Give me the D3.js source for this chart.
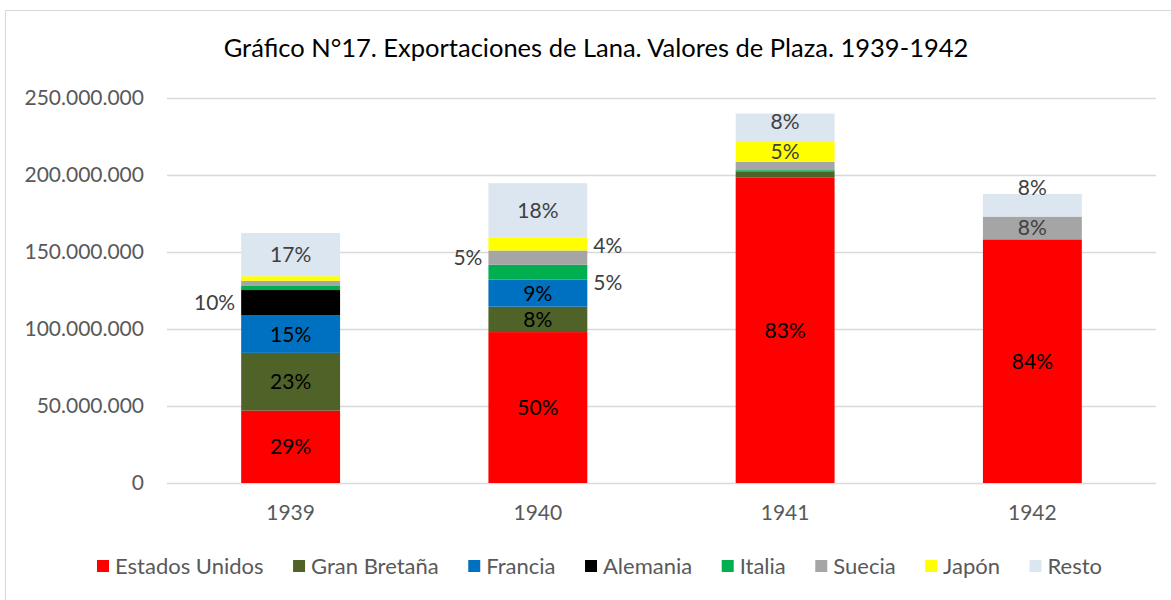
<!DOCTYPE html>
<html>
<head>
<meta charset="utf-8">
<script src="https://cdn.jsdelivr.net/npm/d3@7"></script>
<style>
  body { margin: 0; background: #fff; }
  svg { display: block; font-family: Lato, "Liberation Sans", sans-serif; }
</style>
</head>
<body>
<div id="chart"></div>
<script>
// Datos (valores de plaza, en pesos)
var years = ["1939", "1940", "1941", "1942"];
var countries = ["Estados Unidos", "Gran Bretaña", "Francia", "Alemania", "Italia", "Suecia", "Japón", "Resto"];
var estadosUnidos = [47000000, 98000000, 198500000, 158000000];
var granBretana   = [37500000, 16500000, 3700000, 300000];
var francia       = [24300000, 17500000, 500000, 0];
var alemania      = [16500000, 0, 0, 0];
var italia        = [3000000, 9700000, 500000, 0];
var suecia        = [3000000, 9300000, 5400000, 14700000];
var japon         = [3000000, 8200000, 12800000, 0];
var resto         = [28000000, 35500000, 18500000, 14700000];
var yTicks = [0, 50000000, 100000000, 150000000, 200000000, 250000000];

var colors = ["#ff0000", "#4f6228", "#0070c0", "#000000", "#00b050", "#a5a5a5", "#ffff00", "#dce6f1"];

// Qué porcentajes se muestran y dónde (como en el original)
var labelSpots = [
    {year: "1939", c: "Estados Unidos", pos: "in"},
    {year: "1939", c: "Gran Bretaña", pos: "in"},
    {year: "1939", c: "Francia", pos: "in"},
    {year: "1939", c: "Alemania", pos: "left"},
    {year: "1939", c: "Resto", pos: "in"},
    {year: "1940", c: "Estados Unidos", pos: "in"},
    {year: "1940", c: "Gran Bretaña", pos: "in"},
    {year: "1940", c: "Francia", pos: "in"},
    {year: "1940", c: "Italia", pos: "right", dy: 10},
    {year: "1940", c: "Suecia", pos: "left"},
    {year: "1940", c: "Japón", pos: "right", dy: 2},
    {year: "1940", c: "Resto", pos: "in"},
    {year: "1941", c: "Estados Unidos", pos: "in"},
    {year: "1941", c: "Japón", pos: "in"},
    {year: "1941", c: "Resto", pos: "in", dy: -6},
    {year: "1942", c: "Estados Unidos", pos: "in"},
    {year: "1942", c: "Suecia", pos: "in"},
    {year: "1942", c: "Resto", pos: "in", dy: -18}
];

var allSeries = [estadosUnidos, granBretana, francia, alemania, italia, suecia, japon, resto];

// Tabla por año para d3.stack
var table = years.map(function(yr, i) {
    var row = {year: yr};
    countries.forEach(function(c, j) { row[c] = allSeries[j][i]; });
    return row;
});

var width = 1171, height = 600;
var plotLeft = 167, plotRight = 1156, plotTop = 98, plotBottom = 483;

var svg = d3.select("#chart").append("svg")
    .attr("width", width)
    .attr("height", height);

// marco del gráfico
svg.append("rect")
    .attr("x", 5.5).attr("y", 10.5)
    .attr("width", width).attr("height", height)
    .attr("fill", "#fff")
    .attr("stroke", "#d9d9d9");

var x = d3.scaleBand().domain(years).range([plotLeft, plotRight]).paddingInner(0.6).paddingOuter(0.3);
var y = d3.scaleLinear().domain([0, 250000000]).range([plotBottom, plotTop]);
var color = d3.scaleOrdinal().domain(countries).range(colors);

var es = d3.formatLocale({decimal: ",", thousands: ".", grouping: [3], currency: ["$", ""]});
var fmt = es.format(",.0f");

// Eje Y con líneas de grilla
var yAxis = svg.append("g")
    .attr("transform", "translate(" + plotLeft + ",0)")
    .call(d3.axisLeft(y).tickValues(yTicks).tickFormat(fmt).tickSize(-(plotRight - plotLeft)).tickPadding(23));
yAxis.select(".domain").remove();
yAxis.selectAll("line").attr("stroke", "#d9d9d9").attr("stroke-width", 1.3);
yAxis.selectAll("text")
    .attr("fill", "#595959")
    .style("font-size", "21px")
    .style("font-family", "Lato");

// Barras apiladas
var stacked = d3.stack().keys(countries)(table);

var layer = svg.append("g").selectAll("g")
    .data(stacked)
    .enter().append("g")
    .attr("fill", d => color(d.key));

layer.selectAll("rect")
    .data(d => d)
    .enter().append("rect")
    .attr("x", d => x(d.data.year))
    .attr("width", x.bandwidth())
    .attr("y", d => y(d[1]))
    .attr("height", d => y(d[0]) - y(d[1]));

// Etiquetas de año
svg.append("g").selectAll("text")
    .data(years)
    .enter().append("text")
    .attr("x", d => x(d) + x.bandwidth() / 2)
    .attr("y", 513)
    .attr("dy", "0.35em")
    .attr("text-anchor", "middle")
    .attr("fill", "#595959")
    .style("font-size", "21px")
    .text(d => d);

// Porcentajes
var totals = {};
table.forEach(function(r) {
    totals[r.year] = d3.sum(countries, c => r[c]);
});

var dark = ["Estados Unidos", "Gran Bretaña", "Francia"];

svg.append("g").selectAll("text")
    .data(labelSpots)
    .enter().append("text")
    .each(function(d) {
        var k = countries.indexOf(d.c);
        var seg = stacked[k].find(s => s.data.year == d.year);
        var cy = (y(seg[0]) + y(seg[1])) / 2 + (d.dy || 0);
        var cx, anchor;
        if (d.pos == "left") {
            cx = x(d.year) - 6; anchor = "end";
        } else if (d.pos == "right") {
            cx = x(d.year) + x.bandwidth() + 6; anchor = "start";
        } else {
            cx = x(d.year) + x.bandwidth() / 2; anchor = "middle";
        }
        var pct = Math.round(seg.data[d.c] / totals[d.year] * 100);
        d3.select(this)
            .attr("x", cx)
            .attr("y", cy)
            .attr("dy", "0.35em")
            .attr("text-anchor", anchor)
            .attr("fill", (d.pos == "in" && dark.includes(d.c)) ? "#000" : "#404040")
            .style("font-size", "21px")
            .text(pct + "%");
    });

// Título
svg.append("text")
    .attr("x", 596)
    .attr("y", 48)
    .attr("dy", "0.35em")
    .attr("text-anchor", "middle")
    .attr("fill", "#000")
    .style("font-size", "25.5px")
    .text("Gráfico N°17. Exportaciones de Lana. Valores de Plaza. 1939-1942");

// Leyenda, centrada
var legend = svg.append("g");
var items = legend.selectAll("g")
    .data(countries)
    .enter().append("g");

items.append("rect")
    .attr("width", 12)
    .attr("height", 12)
    .attr("y", -6)
    .attr("fill", d => color(d));

items.append("text")
    .attr("x", 18)
    .attr("dy", "0.35em")
    .attr("fill", "#595959")
    .style("font-size", "22px")
    .text(d => d);

var gap = 29.5;
var pos = 0;
items.each(function() {
    var w = this.querySelector("text").getComputedTextLength();
    d3.select(this).attr("transform", "translate(" + pos + ",0)");
    pos += 18 + w + gap;
});
pos -= gap;
legend.attr("transform", "translate(" + (599.5 - pos / 2) + ",566)");
</script>
</body>
</html>
